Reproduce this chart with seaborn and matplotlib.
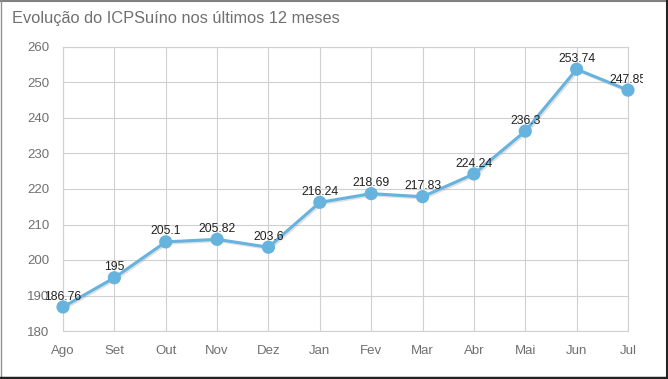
import matplotlib
matplotlib.use("Agg")
import matplotlib.pyplot as plt
import matplotlib.patheffects as pe
from matplotlib.lines import Line2D
from matplotlib.patches import Rectangle
import seaborn as sns
import pandas as pd

months = ["Ago", "Set", "Out", "Nov", "Dez", "Jan", "Fev", "Mar", "Abr", "Mai", "Jun", "Jul"]
values = [186.76, 195, 205.1, 205.82, 203.6, 216.24, 218.69, 217.83, 224.24, 236.3, 253.74, 247.85]
labels = ["186.76", "195", "205.1", "205.82", "203.6", "216.24", "218.69", "217.83", "224.24", "236.3", "253.74", "247.85"]
yticks = [180, 190, 200, 210, 220, 230, 240, 250, 260]
title = "Evolução do ICPSuíno nos últimos 12 meses"

df = pd.DataFrame({"mes": months, "valor": values, "pos": range(len(months))})

sns.set_theme(style="white")
plt.rcParams["font.family"] = ["Liberation Sans", "DejaVu Sans"]

fig = plt.figure(figsize=(6.68, 3.79), dpi=100)
ax = fig.add_axes([63 / 668, 1 - 331 / 379, 565 / 668, 284 / 379])

line_color = "#66B3DD"
sns.lineplot(data=df, x="pos", y="valor", ax=ax, color=line_color, linewidth=2.2,
             marker="o", markersize=9.5, markeredgewidth=0, zorder=3, clip_on=False,
             path_effects=[pe.SimpleLineShadow(offset=(1.0, -1.0), shadow_color="#999999", alpha=0.3),
                           pe.Normal()])

ax.set_xlim(0, len(months) - 1)
ax.set_ylim(180, 260)
ax.set_xticks(range(len(months)))
ax.set_xticklabels(months)
ax.set_yticks(yticks)
ax.set_yticklabels([str(t) for t in yticks])
ax.set_xlabel("")
ax.set_ylabel("")
ax.grid(True, color="#d0d0d0", linewidth=0.8)
for s in ax.spines.values():
    s.set_visible(True)
    s.set_color("#d0d0d0")
    s.set_linewidth(0.8)
ax.tick_params(axis="both", length=0, labelsize=9.5, colors="#707070")
ax.tick_params(axis="x", pad=10)
ax.tick_params(axis="y", pad=10)

clip_rect = Rectangle((0, 0), 643, 379, transform=None, visible=False)
fig.add_artist(clip_rect)
for i, (v, lab) in enumerate(zip(values, labels)):
    t = ax.annotate(lab, (i, v), xytext=(0, 3.2), textcoords="offset points",
                    ha="center", va="bottom", fontsize=8.8, color="#222222", zorder=4,
                    annotation_clip=False)
    t.set_clip_path(clip_rect)
    t.set_clip_on(True)

fig.text(12 / 668, 1 - 18 / 379, title, fontsize=11.8, color="#707070", ha="left", va="center")

# frame around figure
fig.add_artist(Line2D([0, 1], [1 - 0.5 / 379, 1 - 0.5 / 379], transform=fig.transFigure, color="#808080", linewidth=1.5))
fig.add_artist(Line2D([0.5 / 668, 0.5 / 668], [0, 1], transform=fig.transFigure, color="#909090", linewidth=1.0))
fig.add_artist(Line2D([1 - 1.5 / 668, 1 - 1.5 / 668], [0, 1], transform=fig.transFigure, color="#222222", linewidth=2.2))
fig.add_artist(Line2D([0, 1], [1.5 / 379, 1.5 / 379], transform=fig.transFigure, color="#222222", linewidth=2.5))

fig.savefig("out.png", dpi=100)
